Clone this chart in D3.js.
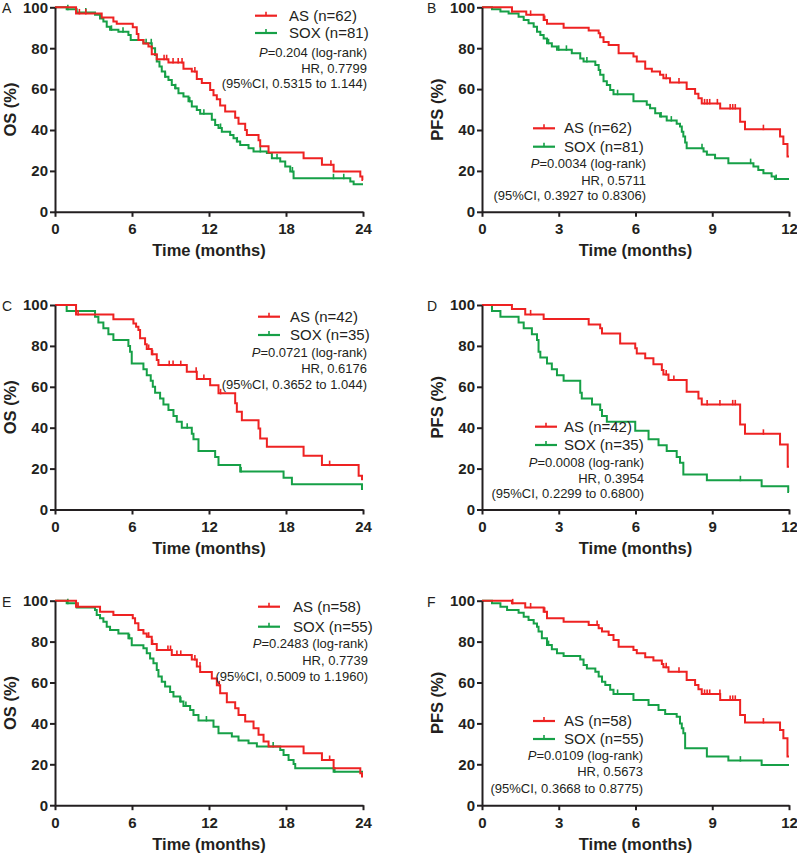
<!DOCTYPE html>
<html>
<head>
<meta charset="utf-8">
<script src="https://d3js.org/d3.v7.min.js"></script>
<style>
  body { margin: 0; background: #fff; }
  svg { display: block; font-family: "Liberation Sans", Arial, sans-serif; }
  .axis path, .axis line { stroke: #231f20; stroke-width: 2; }
  .axis text { font-size: 15px; font-weight: bold; fill: #231f20; font-family: "Liberation Sans", Arial, sans-serif; }
  .title { font-size: 16.5px; font-weight: bold; fill: #231f20; }
  .km { fill: none; stroke-width: 2; }
  .leg { font-size: 15px; fill: #231f20; }
  .stat { font-size: 13px; fill: #231f20; }
  .letter { font-size: 14px; fill: #231f20; }
</style>
</head>
<body>
<svg id="chart" width="797" height="854"></svg>
<script>
// tick labels
const osTicks = [0, 6, 12, 18, 24];
const pfsTicks = [0, 3, 6, 9, 12];
const survTicks = [0, 20, 40, 60, 80, 100];

// Kaplan-Meier steps: [month, survival % after the event]
const A_AS = [[1.64,97],[3.64,95],[4.55,93],[4.81,91.9],[6.06,90.2],[6.37,87],[6.5,84],[6.89,82.3],[7.28,80.8],[7.54,77],[7.93,74.6],[8.84,73],[10.01,70],[10.66,68.6],[11.05,65],[11.44,63],[12.09,59.6],[12.35,57],[12.61,55],[12.87,52],[13.26,49],[14.04,46],[14.3,43],[14.82,40],[14.95,37.6],[15.86,35],[15.99,32],[16.64,29],[19.37,26.2],[20.8,23],[21.71,19.7],[23.79,17.3],[23.95,15.6]];
const A_AS_cens = [1.9,2.4,8.5,8.7,9.2,9.6,9.9,10.9,21.5];
const A_SOX = [[0.91,99],[1.69,97.5],[3.12,96.3],[3.51,94.5],[3.77,93],[4.03,90.5],[4.29,89],[4.94,88],[5.72,86.5],[5.9,84],[6.89,82.4],[7.54,80],[7.8,76.7],[7.93,73.5],[8.14,71],[8.32,68.6],[8.58,66],[8.84,64.5],[9.1,62],[9.36,60.4],[9.62,58],[10.01,56.4],[10.4,54],[10.66,51.5],[11.05,49.8],[11.31,47.9],[12.22,45],[12.48,42.5],[12.74,41],[13.0,39.2],[13.65,37.6],[13.91,36],[14.17,34.4],[14.43,32.7],[15.08,31.1],[15.47,29.5],[16.51,28.7],[16.9,26.2],[17.55,24.6],[17.94,22.1],[18.33,19.7],[18.59,16.4],[23.01,14.8],[23.27,13.5]];
const A_SOX_cens = [1.0,2.4,4.4,5.3,7.1,7.5,8.6,9.4,10.5,11.6,12.9,14.2,16.0,17.3,18.5,21.7,22.5];

const B_AS = [[1.17,97.9],[1.73,96.3],[2.41,93.8],[2.54,91.9],[3.19,90],[4.17,88.6],[4.56,87.3],[4.62,85.3],[4.75,83],[4.95,81.6],[5.34,77.5],[5.92,75.9],[6.05,73.5],[6.38,70],[6.64,68.6],[6.96,67],[7.09,65.3],[7.35,63.2],[8.0,60],[8.33,57.7],[8.46,55.5],[8.59,53],[9.31,50.5],[10.09,44],[10.28,40.4],[11.65,36.8],[11.78,33.2],[11.94,27]];
const B_AS_cens = [1.17,1.9,2.45,7.2,7.7,8.7,8.8,8.9,9.2,9.7,9.8,9.9,11.0];
const B_SOX = [[0.39,99],[0.72,97.9],[1.04,97],[1.43,95.4],[1.63,93.8],[1.82,92.2],[2.02,90.5],[2.15,88.1],[2.28,86.5],[2.41,84.7],[2.54,82.4],[2.73,80.8],[2.93,79.2],[3.51,77.5],[3.84,75],[3.97,73.5],[4.43,71.8],[4.56,69.4],[4.62,67],[4.75,63.8],[4.88,62],[5.01,59.6],[5.14,57.5],[5.92,54],[6.44,52.3],[6.57,50.6],[6.77,48.2],[6.96,46.6],[7.22,44.6],[7.61,43],[7.74,41.7],[7.81,39.2],[7.87,36.8],[7.94,33.9],[8.0,31.1],[8.66,29.5],[8.79,27.9],[9.11,26.2],[9.63,23.8],[10.61,22.1],[10.8,20.5],[11.0,18.9],[11.32,17.3],[11.45,16]];
const B_SOX_cens = [2.6,3.0,3.3,4.1,5.3,7.0,7.4,8.6,10.5,11.5];

const C_AS = [[1.64,95.4],[4.55,93],[6.11,91],[6.32,89.4],[6.5,87.8],[6.63,83.7],[7.02,80.8],[7.15,78.5],[7.54,75.9],[7.93,73.1],[8.06,70.6],[10.27,67.4],[11.05,63.8],[12.09,60.8],[12.74,56.8],[14.04,51.9],[14.17,47.8],[14.56,43.7],[15.86,39.6],[15.99,34.7],[16.51,30.7],[19.37,26.3],[20.8,21.7],[23.66,16.5],[23.92,14.8]];
const C_AS_cens = [1.8,7.3,7.6,8.9,9.2,9.8,11.0,11.6,12.9,21.4];
const C_SOX = [[0.91,97.1],[3.12,94.3],[3.38,91.4],[3.77,88.6],[4.16,85.7],[4.55,82.9],[5.72,80],[5.85,77.1],[5.98,71.4],[6.89,68.6],[7.15,65.7],[7.46,62.9],[7.62,60],[7.8,57.1],[8.19,54.3],[8.45,51.4],[8.84,48.6],[9.23,45.7],[9.49,42.9],[9.88,40],[10.66,37.1],[10.79,34.3],[11.18,28.6],[12.48,25.7],[12.74,21.7],[14.43,18.6],[17.81,15.5],[18.46,12.4],[23.92,10]];
const C_SOX_cens = [10.3,14.5];

const D_AS = [[1.17,98],[1.69,95.4],[2.41,93.1],[4.17,90.5],[4.62,88.6],[4.69,86.1],[5.4,81.2],[5.99,78.8],[6.05,76.3],[6.38,73.9],[6.7,71],[7.03,68.2],[7.09,66],[7.29,63.3],[8.0,57.6],[8.46,54.3],[8.59,51.4],[10.09,41.6],[10.28,37],[11.65,31.8],[11.95,20.9]];
const D_AS_cens = [1.9,7.2,7.5,8.8,9.3,9.8,9.9,11.0];
const D_SOX = [[0.39,97.1],[0.72,94.3],[1.43,91.4],[1.63,88.6],[1.95,85.7],[2.15,82.9],[2.21,77.1],[2.28,74.3],[2.54,71.4],[2.73,68.6],[2.93,65.7],[3.19,62.9],[3.84,57.1],[3.9,54.3],[4.3,51.4],[4.62,48.6],[4.69,45.7],[4.88,42.9],[5.99,38.5],[6.51,34.3],[6.9,31.4],[7.22,28.6],[7.61,25.7],[7.74,22.9],[7.87,17.1],[8.79,14.3],[10.93,11.4],[11.97,8.6]];
const D_SOX_cens = [10.1];

const E_AS = [[1.64,97.1],[3.51,94.6],[4.55,93],[6.06,91.4],[6.24,89],[6.5,85.7],[6.89,84],[7.15,82.4],[7.54,78.8],[7.93,75.9],[9.1,73.5],[10.66,71.3],[11.05,67.8],[11.31,65.1],[12.22,61.9],[12.61,58.6],[12.87,54.7],[13.39,50.3],[14.04,47.4],[14.3,44.1],[14.82,40.9],[15.47,37.6],[15.86,34.4],[16.25,31.1],[16.64,28.7],[19.37,25.4],[20.8,22.1],[21.71,18.1],[23.79,15.6],[23.92,14]];
const E_AS_cens = [1.8,7.3,7.6,8.8,9.0,9.5,9.8,10.9,11.3,12.8,21.4];
const E_SOX = [[0.91,98.7],[1.69,96.7],[3.12,95.4],[3.25,93],[3.51,91.4],[3.77,89.7],[4.03,87.3],[4.29,85.7],[4.94,84],[5.72,81.6],[5.98,78.2],[6.89,76.7],[7.15,74.3],[7.41,71.7],[7.67,69.4],[7.93,66.1],[8.06,62.9],[8.32,60.4],[8.58,58],[8.97,55.4],[9.23,53.1],[9.75,50.7],[10.01,48.5],[10.53,46.6],[10.79,44.1],[11.18,41.4],[12.35,38.4],[12.74,35.2],[13.78,33.6],[14.3,31.6],[15.08,30.3],[15.73,28.7],[17.55,27],[17.81,24.6],[18.2,22.1],[18.59,20.2],[18.72,18.1],[21.71,16.4]];
const E_SOX_cens = [1.0,5.8,9.8,10.2,11.8,17.0,21.8];

const F_AS = [[1.17,98.7],[1.69,96.7],[2.41,94.6],[2.54,91.4],[3.19,89.7],[4.17,88.1],[4.56,86.5],[4.69,84.9],[4.95,83.2],[5.14,80.8],[5.34,77.5],[5.92,75.9],[6.05,74.3],[6.38,72.3],[6.7,70.7],[7.03,69.1],[7.09,67.4],[7.29,65.3],[8.0,61.2],[8.33,58.8],[8.46,56.7],[8.59,54.4],[9.31,51.5],[10.09,44.1],[10.28,40.4],[11.65,36.8],[11.78,32.7],[11.94,23.8]];
const F_AS_cens = [1.2,1.9,2.45,4.5,7.2,7.7,8.7,8.8,8.9,9.3,9.7,9.8,9.9,11.0];
const F_SOX = [[0.39,98.7],[0.72,97.1],[0.98,95.4],[1.43,94.1],[1.63,92.2],[1.82,90.6],[2.02,88.9],[2.15,87.3],[2.21,84.9],[2.34,81.6],[2.54,78.3],[2.73,76.2],[2.93,74.3],[3.19,73],[3.84,71.3],[3.97,68.6],[4.1,66.9],[4.43,65.3],[4.56,62.9],[4.69,60.4],[4.82,58.8],[5.01,56.4],[5.14,54.4],[5.92,51.5],[6.51,49],[6.9,46.6],[7.16,44.6],[7.61,43.3],[7.74,40],[7.81,37.6],[7.87,35.2],[7.94,27.9],[8.79,23.8],[9.63,21.8],[10.93,19.7]];
const F_SOX_cens = [2.6,5.3,10.1];

// legend / stats text
const legendAS = ["AS (n=62)", "AS (n=62)", "AS (n=42)", "AS (n=42)", "AS (n=58)", "AS (n=58)"];
const legendSOX = ["SOX (n=81)", "SOX (n=81)", "SOX (n=35)", "SOX (n=35)", "SOX (n=55)", "SOX (n=55)"];
const pValues = ["0.204", "0.0034", "0.0721", "0.0008", "0.2483", "0.0109"];
const hrValues = ["0.7799", "0.5711", "0.6176", "0.3954", "0.7739", "0.5673"];
const ciValues = ["0.5315 to 1.144", "0.3927 to 0.8306", "0.3652 to 1.044", "0.2299 to 0.6800", "0.5009 to 1.1960", "0.3668 to 0.8775"];

const RED = "#ee2222";
const GREEN = "#16a047";

const svg = d3.select("#chart");
svg.append("rect").attr("width", 797).attr("height", 854).attr("fill", "#fff");

const H = 204.5;
const panels = [
  { letter: "A", ox: 55, top: 7.3, w: 308, max: 24, ticks: osTicks, ylab: "OS (%)", as: A_AS, asC: A_AS_cens, sox: A_SOX, soxC: A_SOX_cens,
    leg: { lx: 200, tx: 234, y: [13.4, 30.7], sx: 312, sy: [49.7, 65.7, 80.7] } },
  { letter: "B", ox: 482, top: 7.3, w: 307, max: 12, ticks: pfsTicks, ylab: "PFS (%)", as: B_AS, asC: B_AS_cens, sox: B_SOX, soxC: B_SOX_cens,
    leg: { lx: 51, tx: 82, y: [126, 144.4], sx: 164, sy: [161, 177.7, 192.7] } },
  { letter: "C", ox: 55, top: 305, w: 308, max: 24, ticks: osTicks, ylab: "OS (%)", as: C_AS, asC: C_AS_cens, sox: C_SOX, soxC: C_SOX_cens,
    leg: { lx: 203, tx: 235, y: [16.7, 35], sx: 312, sy: [52.3, 68.3, 84] } },
  { letter: "D", ox: 482, top: 305, w: 307, max: 12, ticks: pfsTicks, ylab: "PFS (%)", as: D_AS, asC: D_AS_cens, sox: D_SOX, soxC: D_SOX_cens,
    leg: { lx: 53, tx: 82, y: [126.7, 145], sx: 162, sy: [161.7, 177.7, 193.3] } },
  { letter: "E", ox: 55, top: 600.7, w: 308, max: 24, ticks: osTicks, ylab: "OS (%)", as: E_AS, asC: E_AS_cens, sox: E_SOX, soxC: E_SOX_cens,
    leg: { lx: 203, tx: 238, y: [11, 31], sx: 313, sy: [47.6, 64.3, 80.3] } },
  { letter: "F", ox: 482, top: 600.7, w: 307, max: 12, ticks: pfsTicks, ylab: "PFS (%)", as: F_AS, asC: F_AS_cens, sox: F_SOX, soxC: F_SOX_cens,
    leg: { lx: 51, tx: 82, y: [125.3, 143.3], sx: 161, sy: [159.3, 175.3, 192] } }
];

function survAt(steps, t) {
  let s = 100;
  for (const [tt, ss] of steps) if (tt <= t) s = ss;
  return s;
}

function stepPoints(steps, max) {
  const pts = [[0, 100]];
  let prev = 100;
  steps.forEach(([t, s]) => { pts.push([t, prev]); pts.push([t, s]); prev = s; });
  pts.push([max, prev]);
  return pts;
}

panels.forEach((p, i) => {
  const g = svg.append("g").attr("transform", `translate(${p.ox},${p.top})`);
  const x = d3.scaleLinear().domain([0, p.max]).range([0, p.w]);
  const y = d3.scaleLinear().domain([0, 100]).range([H, 0]);

  // curves (SOX under AS)
  const line = d3.line().x(d => x(d[0])).y(d => y(d[1]));
  [[p.sox, p.soxC, GREEN], [p.as, p.asC, RED]].forEach(([steps, cens, col]) => {
    g.append("path").attr("class", "km").attr("stroke", col).attr("d", line(stepPoints(steps, p.max)));
    g.append("g").selectAll("line").data(cens).join("line")
      .attr("x1", d => x(d)).attr("x2", d => x(d))
      .attr("y1", d => y(survAt(steps, d)) - 4.5)
      .attr("y2", d => y(survAt(steps, d)) + 1)
      .attr("stroke", col).attr("stroke-width", 1.6);
  });

  // axes
  g.append("g").attr("class", "axis").attr("transform", `translate(0,${H})`)
    .call(d3.axisBottom(x).tickValues(p.ticks).tickSize(5).tickSizeOuter(0).tickPadding(7));
  g.append("g").attr("class", "axis")
    .call(d3.axisLeft(y).tickValues(survTicks).tickSize(5).tickSizeOuter(0).tickPadding(2));

  g.append("text").attr("class", "title").attr("x", p.w / 2).attr("y", H + 44.5)
    .attr("text-anchor", "middle").text("Time (months)");
  g.append("text").attr("class", "title")
    .attr("transform", `translate(-39,${H / 2}) rotate(-90)`)
    .attr("text-anchor", "middle").text(p.ylab);

  // panel letter
  svg.append("text").attr("class", "letter")
    .attr("x", p.ox < 100 ? 2 : 427).attr("y", p.top + 6)
    .text(p.letter);

  // legend
  const L = p.leg;
  [[legendAS[i], RED, L.y[0]], [legendSOX[i], GREEN, L.y[1]]].forEach(([label, col, by]) => {
    const ly = by - 5;
    g.append("line").attr("x1", L.lx).attr("x2", L.lx + 22).attr("y1", ly).attr("y2", ly)
      .attr("stroke", col).attr("stroke-width", 2.2);
    g.append("line").attr("x1", L.lx + 11).attr("x2", L.lx + 11).attr("y1", ly - 4).attr("y2", ly)
      .attr("stroke", col).attr("stroke-width", 1.6);
    g.append("text").attr("class", "leg").attr("x", L.tx).attr("y", by).text(label);
  });

  const t1 = g.append("text").attr("class", "stat").attr("x", L.sx).attr("y", L.sy[0]).attr("text-anchor", "end");
  t1.append("tspan").attr("font-style", "italic").text("P");
  t1.append("tspan").text("=" + pValues[i] + " (log-rank)");
  g.append("text").attr("class", "stat").attr("x", L.sx).attr("y", L.sy[1]).attr("text-anchor", "end")
    .text("HR, " + hrValues[i]);
  g.append("text").attr("class", "stat").attr("x", L.sx).attr("y", L.sy[2]).attr("text-anchor", "end")
    .text("(95%CI, " + ciValues[i] + ")");
});
</script>
</body>
</html>
